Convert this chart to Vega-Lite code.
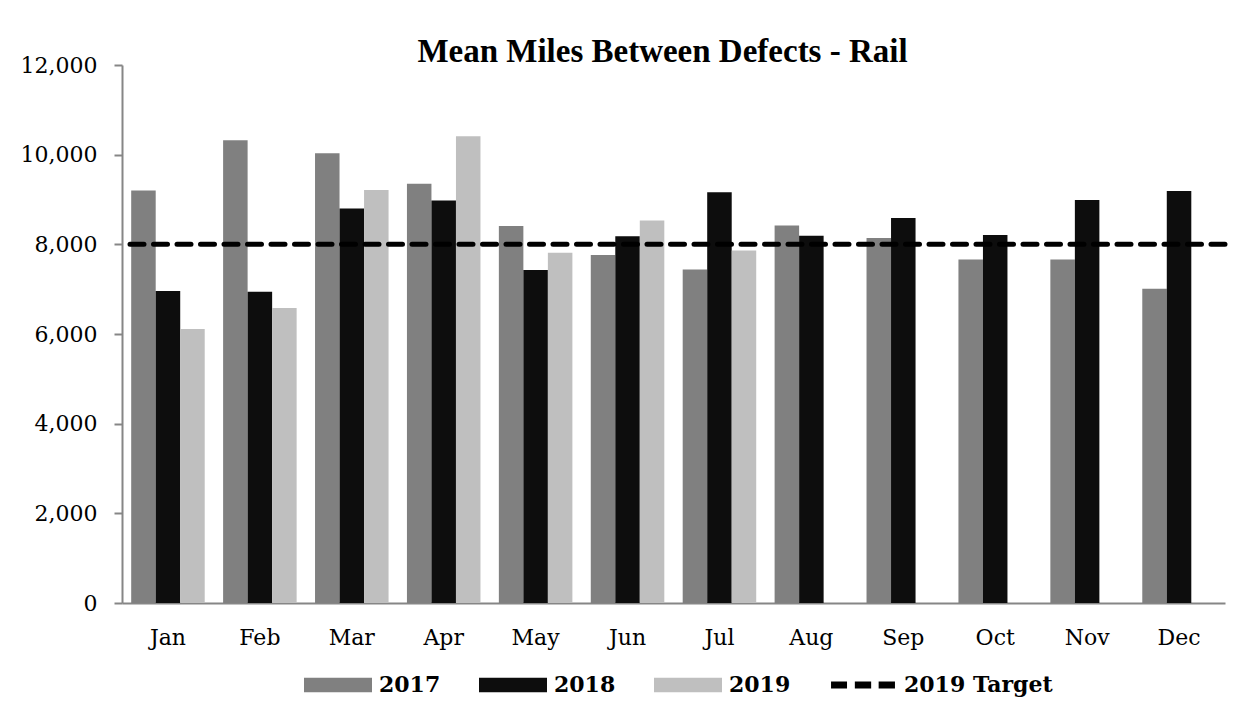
{
  "$schema": "https://vega.github.io/schema/vega-lite/v6.json",
  "autosize": "none",
  "width": 1103,
  "height": 538,
  "padding": {"left": 122, "top": 65, "right": 28, "bottom": 109},
  "background": "white",
  "title": {
    "text": "Mean Miles Between Defects - Rail",
    "font": "Liberation Serif",
    "fontSize": 33,
    "fontWeight": "bold",
    "color": "black",
    "anchor": "middle",
    "dx": -11,
    "baseline": "alphabetic",
    "offset": -41
  },
  "config": {"view": {"stroke": null}},
  "layer": [
    {
      "data": {
        "values": [
          {"month": "Jan", "year": "2017", "miles": 9200},
          {"month": "Jan", "year": "2018", "miles": 6960},
          {"month": "Jan", "year": "2019", "miles": 6110},
          {"month": "Feb", "year": "2017", "miles": 10320},
          {"month": "Feb", "year": "2018", "miles": 6940},
          {"month": "Feb", "year": "2019", "miles": 6580},
          {"month": "Mar", "year": "2017", "miles": 10030},
          {"month": "Mar", "year": "2018", "miles": 8800},
          {"month": "Mar", "year": "2019", "miles": 9210},
          {"month": "Apr", "year": "2017", "miles": 9350},
          {"month": "Apr", "year": "2018", "miles": 8980},
          {"month": "Apr", "year": "2019", "miles": 10410},
          {"month": "May", "year": "2017", "miles": 8410},
          {"month": "May", "year": "2018", "miles": 7430},
          {"month": "May", "year": "2019", "miles": 7810},
          {"month": "Jun", "year": "2017", "miles": 7760},
          {"month": "Jun", "year": "2018", "miles": 8180},
          {"month": "Jun", "year": "2019", "miles": 8530},
          {"month": "Jul", "year": "2017", "miles": 7440},
          {"month": "Jul", "year": "2018", "miles": 9160},
          {"month": "Jul", "year": "2019", "miles": 7860},
          {"month": "Aug", "year": "2017", "miles": 8420},
          {"month": "Aug", "year": "2018", "miles": 8190},
          {"month": "Sep", "year": "2017", "miles": 8140},
          {"month": "Sep", "year": "2018", "miles": 8590},
          {"month": "Oct", "year": "2017", "miles": 7660},
          {"month": "Oct", "year": "2018", "miles": 8210},
          {"month": "Nov", "year": "2017", "miles": 7660},
          {"month": "Nov", "year": "2018", "miles": 8990},
          {"month": "Dec", "year": "2017", "miles": 7010},
          {"month": "Dec", "year": "2018", "miles": 9190}
        ]
      },
      "mark": {"type": "bar"},
      "encoding": {
        "x": {
          "field": "month",
          "type": "nominal",
          "sort": ["Jan", "Feb", "Mar", "Apr", "May", "Jun", "Jul", "Aug", "Sep", "Oct", "Nov", "Dec"],
          "scale": {"paddingInner": 0.2, "paddingOuter": 0.1},
          "axis": {
            "title": null,
            "labelAngle": 0,
            "labelFont": "DejaVu Serif",
            "labelFontSize": 22,
            "labelColor": "black",
            "labelPadding": 24,
            "ticks": false,
            "domainColor": "#868686",
            "domainWidth": 2
          }
        },
        "xOffset": {
          "field": "year",
          "type": "nominal",
          "scale": {"paddingInner": 0, "paddingOuter": 0}
        },
        "y": {
          "field": "miles",
          "type": "quantitative",
          "scale": {"domain": [0, 12000]},
          "axis": {
            "title": null,
            "values": [0, 2000, 4000, 6000, 8000, 10000, 12000],
            "format": ",.0f",
            "grid": false,
            "labelFont": "DejaVu Serif",
            "labelFontSize": 22,
            "labelColor": "black",
            "labelPadding": 17,
            "tickSize": 8,
            "tickColor": "#868686",
            "tickWidth": 2,
            "domainColor": "#868686",
            "domainWidth": 2
          }
        },
        "color": {
          "field": "year",
          "type": "nominal",
          "scale": {
            "domain": ["2017", "2018", "2019", "2019 Target"],
            "range": ["#808080", "#0d0d0d", "#bfbfbf", "#000000"]
          },
          "legend": {
            "orient": "none",
            "legendX": 182,
            "legendY": 586,
            "direction": "horizontal",
            "title": null,
            "symbolType": "M-1,-0.21H1V0.21H-1Z",
            "symbolSize": 4624,
            "symbolStrokeWidth": 0,
            "symbolOpacity": 1,
            "labelFont": "DejaVu Serif",
            "labelFontSize": 22,
            "labelFontWeight": "bold",
            "labelColor": "black",
            "labelOffset": 7,
            "labelLimit": 300,
            "columnPadding": 38,
            "padding": 0,
            "encode": {
              "symbols": {
                "update": {
                  "shape": {
                    "signal": "datum.value === '2019 Target' ? 'M-0.94,-0.1H-0.47V0.1H-0.94Z M-0.24,-0.1H0.24V0.1H-0.24Z M0.46,-0.1H0.94V0.1H0.46Z' : 'M-1,-0.21H1V0.21H-1Z'"
                  }
                }
              }
            }
          }
        }
      }
    },
    {
      "data": {"values": [{"series": "2019 Target", "miles": 8000}]},
      "mark": {"type": "rule", "stroke": "black", "strokeWidth": 5, "strokeDash": [14, 9.5], "strokeCap": "round"},
      "encoding": {
        "y": {"field": "miles", "type": "quantitative"}
      }
    }
  ]
}
